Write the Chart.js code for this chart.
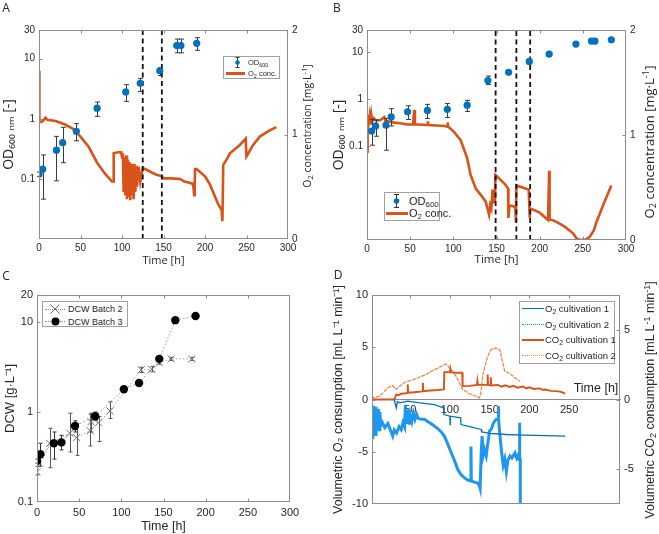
<!DOCTYPE html>
<html>
<head>
<meta charset="utf-8">
<script src="https://cdn.jsdelivr.net/npm/chart.js@4.4.1/dist/chart.umd.min.js"></script>
<style>
  html, body { margin: 0; padding: 0; background: #fff; }
  body { position: relative; width: 659px; height: 534px; overflow: hidden; font-family: "Liberation Sans", Arial, sans-serif; color: #262626; }
  canvas { position: absolute; }
  .t { position: absolute; white-space: nowrap; transform: translate(-50%, -50%); line-height: 1; }
  .r { transform: translate(-50%, -50%) rotate(-90deg); }
  .letter { font-family: "Open Sans", sans-serif; font-size: 12px; }
  .leg { position: absolute; border: 1px solid #a0a0a0; background: #fff; box-sizing: border-box; }
  .leg > * { position: absolute; }
  .leg .txt { white-space: nowrap; transform: translateY(-50%); line-height: 1; }
  sub { font-size: 72%; vertical-align: -0.3em; line-height: 0; }
  sup { font-size: 72%; vertical-align: 0.45em; line-height: 0; }
</style>
</head>
<body>
<canvas id="chartA" width="330" height="267" style="left:0;top:0"></canvas>
<canvas id="chartB" width="329" height="267" style="left:330px;top:0"></canvas>
<canvas id="chartC" width="330" height="267" style="left:0;top:267px"></canvas>
<canvas id="chartD" width="329" height="267" style="left:330px;top:267px"></canvas>

<!-- panel letters -->
<div class="t letter" style="left:6px;top:8px">A</div>
<div class="t letter" style="left:337px;top:8px">B</div>
<div class="t letter" style="left:6px;top:276px">C</div>
<div class="t letter" style="left:338px;top:275px">D</div>

<!-- right axis titles (read bottom to top, like the left ones) -->
<div class="t r" style="left:307px;top:126px;font-family:'Open Sans',sans-serif;font-size:10.5px">O<sub>2</sub> concentration [mg·L<sup>-1</sup>]</div>
<div class="t r" style="left:649px;top:142px;font-family:'Open Sans',sans-serif;font-size:13px">O<sub>2</sub> concentration [mg·L<sup>-1</sup>]</div>
<div class="t r" style="left:650px;top:400px;font-size:12.5px">Volumetric CO<sub>2</sub> consumption [mL L<sup>-1</sup> min<sup>-1</sup>]</div>
<div class="t" style="left:596px;top:388px;font-size:12.5px">Time [h]</div>

<!-- legend A -->
<div class="leg" style="left:223px;top:56px;width:57px;height:23px;">
  <svg style="left:9px;top:0px" width="9" height="11"><line x1="4.5" y1="0.5" x2="4.5" y2="10.5" stroke="#333"/><line x1="2.5" y1="0.5" x2="6.5" y2="0.5" stroke="#333"/><line x1="2.5" y1="10.5" x2="6.5" y2="10.5" stroke="#333"/><circle cx="4.5" cy="5.5" r="2.3" fill="#0072BD"/></svg>
  <span class="txt" style="left:24px;top:5.5px;font-size:7.5px">OD<sub>600</sub></span>
  <div style="left:2px;top:15px;width:19px;height:3px;background:#D95319"></div>
  <span class="txt" style="left:24px;top:16.5px;font-size:7.5px">O<sub>2</sub> conc.</span>
</div>

<!-- legend B -->
<div class="leg" style="left:384px;top:192px;width:56px;height:29px;">
  <svg style="left:6px;top:1px" width="11" height="14"><line x1="5.5" y1="0.5" x2="5.5" y2="13.5" stroke="#333"/><line x1="3" y1="0.5" x2="8" y2="0.5" stroke="#333"/><line x1="3" y1="13.5" x2="8" y2="13.5" stroke="#333"/><circle cx="5.5" cy="7" r="2.8" fill="#0072BD"/></svg>
  <span class="txt" style="left:24px;top:8px;font-size:11px">OD<sub>600</sub></span>
  <div style="left:1px;top:18.5px;width:22px;height:3px;background:#D95319"></div>
  <span class="txt" style="left:24px;top:20px;font-size:11px">O<sub>2</sub> conc.</span>
</div>

<!-- legend C -->
<div class="leg" style="left:42px;top:301px;width:86px;height:26px;">
  <div style="left:2px;top:6.5px;width:20px;height:0;border-top:1px dotted #888"></div>
  <svg style="left:7px;top:2px" width="10" height="10"><line x1="0.5" y1="0.5" x2="9.5" y2="9.5" stroke="#666"/><line x1="9.5" y1="0.5" x2="0.5" y2="9.5" stroke="#666"/></svg>
  <span class="txt" style="left:25px;top:7px;font-size:9px">DCW Batch 2</span>
  <div style="left:2px;top:19px;width:20px;height:0;border-top:1px dotted #888"></div>
  <svg style="left:8px;top:15px" width="9" height="9"><circle cx="4.5" cy="4.5" r="4" fill="#000"/></svg>
  <span class="txt" style="left:25px;top:19.5px;font-size:9px">DCW Batch 3</span>
</div>

<!-- legend D -->
<div class="leg" style="left:519px;top:301px;width:96px;height:63px;font-size:9.5px;">
  <div style="left:2px;top:6px;width:22px;height:0;border-top:1.5px solid #0072BD"></div>
  <span class="txt" style="left:25px;top:7px">O<sub>2</sub> cultivation 1</span>
  <div style="left:2px;top:21.5px;width:22px;height:0;border-top:1.5px dotted #1E98EE"></div>
  <span class="txt" style="left:25px;top:22.5px">O<sub>2</sub> cultivation 2</span>
  <div style="left:2px;top:37px;width:22px;height:0;border-top:2px solid #D95319"></div>
  <span class="txt" style="left:25px;top:38px">CO<sub>2</sub> cultivation 1</span>
  <div style="left:2px;top:52.5px;width:22px;height:0;border-top:1.5px dotted #F28A55"></div>
  <span class="txt" style="left:25px;top:53.5px">CO<sub>2</sub> cultivation 2</span>
</div>

<script>
// ---- Panel A: OD600 (log, left) and dissolved O2 (right) ----
const odTimeA = [0, 4.5, 21, 28.5, 45, 70, 104.5, 122, 145.5, 166, 171, 190];
const odValA  = [0.12, 0.146, 0.30, 0.40, 0.62, 1.5, 2.8, 3.9, 6.3, 16.5, 16.5, 18];
const odLoA   = [0.11, 0.046, 0.093, 0.186, 0.43, 1.1, 1.95, 2.85, 5.25, 12.5, 12.5, 13.8];
const odHiA   = [0.13, 0.25, 0.51, 0.72, 0.83, 1.9, 3.7, 4.7, 7.06, 21.2, 21.2, 22.3];
const o2TimeA = [0, 0.3, 0.6, 3, 6, 8, 10, 20, 30, 40, 45, 50, 60, 70, 80, 88, 89.5, 90, 95, 99, 100, 101,
  102, 103, 104, 105, 106, 107, 108, 109, 110, 111, 112, 113, 114, 115, 116, 117, 118, 120, 122, 125, 130,
  140, 148, 150, 160, 170, 175, 180, 185, 186, 187, 187.6, 188, 190, 200, 206, 216, 220, 221, 222, 226, 230,
  242, 249, 250, 258, 266, 278, 286];
const o2ValA  = [1.61, 1.6, 1.12, 1.12, 1.14, 1.16, 1.14, 1.13, 1.10, 1.06, 1.02, 0.98, 0.88, 0.73, 0.62, 0.55, 0.55, 0.82, 0.83, 0.83, 0.78, 0.82,
  0.45, 0.78, 0.42, 0.80, 0.38, 0.76, 0.40, 0.74, 0.37, 0.72, 0.42, 0.70, 0.38, 0.72, 0.45, 0.70, 0.50, 0.69, 0.55, 0.68, 0.66,
  0.62, 0.60, 0.58, 0.58, 0.575, 0.55, 0.54, 0.53, 0.50, 0.42, 0.50, 0.67, 0.67, 0.60, 0.52, 0.33, 0.28, 0.17, 0.71, 0.76, 0.82,
  0.90, 0.96, 0.79, 0.90, 0.98, 1.04, 1.07];
const sampleA = [125, 148];

// ---- Panel B ----
const odTimeB = [5.4, 10, 22, 28, 47, 70, 93, 116, 140, 164, 188, 211, 242, 260, 264, 283];
const odValB  = [0.21, 0.27, 0.28, 0.42, 0.54, 0.58, 0.61, 0.75, 2.5, 3.75, 6.4, 9.2, 15, 17.4, 17.4, 18.6];
const odLoB   = [0.105, 0.163, 0.082, 0.27, 0.37, 0.39, 0.41, 0.55, 2.06, 3.75, 6.4, 9.2, 15, 17.4, 17.4, 18.6];
const odHiB   = [0.37, 0.36, 0.39, 0.63, 0.73, 0.78, 0.81, 0.95, 3.13, 3.75, 6.4, 9.2, 15, 17.4, 17.4, 18.6];
const o2TimeB = [0, 0.4, 1, 2, 3, 4, 5, 6, 8, 10, 15, 20, 21.6, 25, 30, 40, 46.7, 53.5, 54.5, 55.5, 60, 70, 70.5, 71,
  80, 90, 93, 93.5, 94, 100.8, 108.5, 116, 120, 126, 131.7, 137.5, 141.4, 142.7, 144, 145.4, 146.5, 148.2, 148.7,
  155, 160, 163.4, 163.8, 165, 170, 171.9, 172.5, 173, 180, 187.3, 188.5, 189, 195, 200, 209.7, 211, 211.5,
  220, 229, 238.7, 242.6, 245, 252, 258, 263, 265.7, 273.5, 283];
const o2ValB  = [0.84, 1.14, 1.19, 1.12, 1.18, 1.1, 1.19, 1.13, 1.16, 1.14, 1.14, 1.17, 1.13, 1.13, 1.12, 1.11, 1.10, 1.10, 1.24, 1.10, 1.10, 1.095, 1.13, 1.095,
  1.09, 1.085, 1.08, 1.12, 1.08, 1.03, 0.95, 0.78, 0.62, 0.49, 0.43, 0.365, 0.24, 0.33, 0.30, 0.48, 0.36, 0.37, 0.62,
  0.57, 0.53, 0.49, 0.21, 0.33, 0.32, 0.30, 0.17, 0.52, 0.50, 0.48, 0.21, 0.30, 0.28, 0.26, 0.19, 0.66, 0.20,
  0.17, 0.127, 0.064, 0.016, 0.005, 0, 0.03, 0.095, 0.17, 0.33, 0.52];
const sampleB = [149, 173, 189];

// shared axis values for A and B
const timeTicks = [0, 50, 100, 150, 200, 250, 300];
const odTicksAB = [0.1, 1, 10, 30];
const o2Ticks = [0, 1, 2];
const odRangeA = [0.01, 30];
const odRangeB = [0.001, 30];

// ---- Panel C: dry cell weight ----
const dcwTime3 = [0, 4, 20, 29, 45, 69, 103, 121, 145, 164, 188];
const dcwVal3  = [0.286, 0.34, 0.45, 0.46, 0.70, 0.90, 1.79, 2.1, 3.9, 10.5, 11.7];
const dcwLo3   = [0.27, 0.25, 0.30, 0.38, 0.60, 0.81, 1.79, 2.1, 3.9, 10.5, 11.7];
const dcwHi3   = [0.30, 0.45, 0.60, 0.55, 0.80, 1.0, 1.79, 2.1, 3.9, 10.5, 11.7];
const dcwTime2 = [0, 15, 39, 47, 63, 64, 73, 86.5, 123.5, 136, 145, 159, 183.5];
const dcwVal2  = [0.216, 0.448, 0.58, 0.52, 0.62, 0.78, 0.76, 1.03, 2.94, 2.98, 3.55, 3.9, 3.9];
const dcwLo2   = [0.20, 0.24, 0.36, 0.33, 0.42, 0.60, 0.47, 0.85, 2.75, 2.8, 3.4, 3.75, 3.75];
const dcwHi2   = [0.25, 0.66, 0.97, 0.75, 0.95, 0.97, 0.89, 1.3, 3.15, 3.2, 3.7, 4.05, 4.05];
const dcwTicks = [0.1, 1, 10, 20];

// ---- Panel D: volumetric O2 / CO2 consumption ----
const o2TimeD1 = [30, 32.5, 34, 36.7, 47, 60, 80.7, 92, 92.5, 100, 100.3, 100.6, 113.5, 114, 125, 139.4, 140, 150, 171, 192, 220, 245];
const o2ValD1  = [0, -0.8, -0.2, -0.32, -0.16, -0.3, -0.48, -0.8, -1.44, -1.6, -2.4, -1.6, -1.75, -2.4, -2.6, -2.87, -3.1, -3.25, -3.35, -3.41, -3.45, -3.5];
const o2TimeD2 = [2, 3, 4, 5, 6, 7, 8, 9, 10, 11, 12, 13, 15, 18, 22, 25, 28, 30, 33, 36, 38.8, 41, 43, 44, 45, 46, 47, 48,
  49, 50, 52, 54, 56, 58, 60, 64, 68, 72, 76, 80.7, 85, 89, 93, 97, 101.7, 106, 110, 114, 118.5, 122, 126, 126.5, 127,
  131, 135, 137.3, 138, 139.4, 140.5, 142, 143.5, 145.7, 148, 150, 152, 154.5, 157, 158.5, 160.8, 161, 161.5, 163, 165,
  167, 169, 171, 173, 175.5, 178, 181.8, 184, 186, 187, 187.5, 188, 188.5, 188.6];
const o2ValD2  = [-0.64, -3.8, -0.6, -2.2, -0.7, -3.5, -1.0, -2.4, -0.9, -2.9, -1.2, -2.5, -2.2, -2.7, -2.3, -2.9, -3.5, -2.9, -3.2, -2.6, -2.9, -2.2, -2.6, -0.5, -2.2, -1.0, -2.0, -1.2,
  -2.4, -1.5, -2.1, -1.3, -1.9, -1.4, -1.8, -1.9, -1.9, -2.1, -2.3, -2.55, -2.8, -3.1, -3.5, -4.2, -5.1, -5.9, -6.7, -7.2, -7.5, -7.7, -7.8, -4.5, -7.8,
  -7.9, -8.0, -8.3, -8.5, -5.1, -3.5, -5.3, -4.8, -5.4, -4.0, -3.0, -2.87, -2.3, -2.0, -1.9, -1.9, -0.64, -1.9, -3.5, -5.0,
  -6.3, -5.7, -6.9, -5.8, -5.4, -5.6, -5.1, -5.6, -5.3, -5.74, -2.23, -5.5, -5.7, -10];
const co2TimeD1 = [2, 30, 32.5, 35, 38.8, 45, 46.5, 47, 47.5, 55, 65.5, 66, 66.5, 75, 85, 92.5, 93, 100, 100.5, 101, 108, 115.5, 116,
  125, 134, 134.5, 135, 140, 147, 147.5, 148, 151, 151.5, 152, 160, 165, 170, 175, 180, 185, 192, 196, 200, 205, 213, 217, 220, 227, 234, 240, 245];
const co2ValD1  = [0, 0, 0.36, 0.3, 0.41, 0.45, 0.48, 1.1, 0.48, 0.52, 0.58, 1.2, 0.6, 0.65, 0.68, 0.72, 1.96, 1.98, 2.15, 1.95, 1.92, 1.92, 0.96,
  0.98, 1.05, 1.3, 1.05, 1.05, 1.05, 1.8, 1.05, 1.0, 1.6, 1.0, 1.05, 0.92, 1.02, 0.9, 0.98, 0.85, 0.93, 0.8, 0.88, 0.76, 0.8, 0.7, 0.72, 0.62, 0.6, 0.55, 0.43];
const co2TimeD2 = [2, 3, 11.6, 18, 22, 28, 32, 38, 43, 50, 60, 70, 76.5, 85, 93, 95, 99.6, 104, 110, 116, 122.6, 130, 137.3, 139,
  141.5, 145.7, 149, 152, 158, 163, 166, 169, 175.5, 181, 188];
const co2ValD2  = [0, 0.12, 0.24, 0.6, 0.84, 1.0, 0.72, 1.0, 1.24, 1.35, 1.56, 1.8, 2.03, 2.25, 2.5, 2.55, 2.28, 2.0, 1.44, 0.72, 0.48, 0.3, 0.12, 0.5,
  1.8, 2.75, 3.3, 3.6, 3.7, 3.55, 2.75, 2.03, 1.87, 1.6, 1.31];
const timeTicksD = [50, 100, 150, 200, 250];
const o2TicksD = [-10, -5, 0, 5, 10];
const co2TicksD = [-5, 0, 5];

const SANS = '"Liberation Sans", Arial, sans-serif';
const OPEN = '"Open Sans", sans-serif';
const TXT = '#262626';
const FRAME = '#8c8c8c';
const BLUE = '#0072BD';
const ORANGE = '#D95319';

const pts = (xs, ys) => xs.map((x, i) => ({ x: x, y: ys[i] }));
function vlines(xs, lo, hi) {
  const out = [];
  xs.forEach(x => { out.push({ x: x, y: lo }, { x: x, y: hi }, { x: x, y: null }); });
  return out;
}
const fixTicks = list => s => { s.ticks = list.map(v => ({ value: v })); };

// box around the plot area, with short inward tick marks like the original
const framePlugin = {
  id: 'frame',
  afterDraw(chart) {
    const { ctx, chartArea: a } = chart;
    const L = Math.round(a.left) + 0.5, T = Math.round(a.top) + 0.5;
    const R = Math.round(a.right) - 0.5, B = Math.round(a.bottom) - 0.5;
    ctx.save();
    ctx.strokeStyle = FRAME;
    ctx.lineWidth = 1;
    ctx.strokeRect(L, T, R - L, B - T);
    ctx.beginPath();
    Object.values(chart.scales).forEach(s => {
      s.ticks.forEach(t => {
        const p = Math.round(s.getPixelForValue(t.value)) + 0.5;
        if (s.isHorizontal()) {
          if (p <= L + 1 || p >= R - 1) return;
          ctx.moveTo(p, T); ctx.lineTo(p, T + 3);
          if (typeof s.options.position === 'string') { ctx.moveTo(p, B); ctx.lineTo(p, B - 3); }
        } else {
          if (p <= T + 1 || p >= B - 1) return;
          if (s.position === 'right') { ctx.moveTo(R, p); ctx.lineTo(R - 3, p); }
          else { ctx.moveTo(L, p); ctx.lineTo(L + 3, p); }
        }
      });
    });
    ctx.stroke();
    ctx.restore();
  }
};

// vertical error bars, drawn right under the markers of their dataset
const errorBarPlugin = {
  id: 'errorBars',
  beforeDatasetDraw(chart, args) {
    const ds = chart.data.datasets[args.index];
    if (!ds.errLo) return;
    const xs = chart.scales[args.meta.xAxisID], ys = chart.scales[args.meta.yAxisID];
    const ctx = chart.ctx;
    const cap = ds.errCap || 2.5;
    ctx.save();
    ctx.strokeStyle = ds.errColor;
    ctx.lineWidth = 1;
    ds.data.forEach((p, i) => {
      const lo = ds.errLo[i], hi = ds.errHi[i];
      if (lo === hi) return;
      const x = Math.round(xs.getPixelForValue(p.x)) + 0.5;
      const y1 = ys.getPixelForValue(lo), y2 = ys.getPixelForValue(hi);
      ctx.beginPath();
      ctx.moveTo(x, y1); ctx.lineTo(x, y2);
      ctx.moveTo(x - cap, y1); ctx.lineTo(x + cap, y1);
      ctx.moveTo(x - cap, y2); ctx.lineTo(x + cap, y2);
      ctx.stroke();
    });
    ctx.restore();
  }
};

function axisBase(size) {
  return {
    grid: { display: false, drawTicks: false },
    border: { display: false },
    ticks: { color: TXT, font: { family: SANS, size: size }, padding: 4, maxRotation: 0, autoSkip: false, callback: v => String(v) }
  };
}

const baseOptions = {
  animation: false,
  responsive: false,
  maintainAspectRatio: false,
  events: [],
  plugins: { legend: { display: false }, tooltip: { enabled: false } }
};

// ---------- A and B ----------
function odChart(id, p) {
  const x = axisBase(10);
  x.type = 'linear'; x.min = 0; x.max = 300;
  x.afterBuildTicks = fixTicks(timeTicks);
  x.afterFit = s => { s.height = p.xh; };
  x.ticks.padding = 3;
  x.title = { display: true, text: 'Time [h]', color: TXT, font: { family: OPEN, size: p.xtSize }, padding: { top: 0, bottom: 0 } };

  const y = axisBase(10);
  y.type = 'logarithmic'; y.min = p.range[0]; y.max = p.range[1];
  y.afterBuildTicks = fixTicks(odTicksAB);
  y.afterFit = s => { s.width = p.lw; };
  y.title = { display: true, text: 'OD₆₀₀ ₙₘ [-]', color: TXT, font: { family: OPEN, size: 14 }, padding: { top: 1, bottom: 0 } };

  const y1 = axisBase(10);
  y1.type = 'linear'; y1.position = 'right'; y1.min = 0; y1.max = 2;
  y1.afterBuildTicks = fixTicks(o2Ticks);
  y1.afterFit = s => { s.width = p.rw; };

  return new Chart(document.getElementById(id), {
    type: 'line',
    data: {
      datasets: [
        { label: 'OD600', data: pts(p.odT, p.odV), yAxisID: 'y', showLine: false, pointRadius: 3.6,
          pointBackgroundColor: BLUE, pointBorderWidth: 0, errLo: p.lo, errHi: p.hi, errColor: '#3a3a3a' },
        { label: 'samples', data: vlines(p.samples, p.range[0], p.range[1]), yAxisID: 'y', borderColor: '#111',
          borderWidth: 1.8, borderDash: [5, 3.5], pointRadius: 0, spanGaps: false },
        { label: 'O2 conc.', data: pts(p.o2T, p.o2V), yAxisID: 'y1', borderColor: ORANGE, borderWidth: 2.6,
          pointRadius: 0, tension: 0 }
      ]
    },
    options: Object.assign({}, baseOptions, {
      layout: { padding: { top: 30, left: 0, right: 0, bottom: 0 } },
      scales: { x: x, y: y, y1: y1 }
    }),
    plugins: [errorBarPlugin, framePlugin]
  });
}

odChart('chartA', { odT: odTimeA, odV: odValA, lo: odLoA, hi: odHiA, o2T: o2TimeA, o2V: o2ValA,
  samples: sampleA, range: odRangeA, lw: 39, rw: 42, xh: 28, xtSize: 11 });
odChart('chartB', { odT: odTimeB, odV: odValB, lo: odLoB, hi: odHiB, o2T: o2TimeB, o2V: o2ValB,
  samples: sampleB, range: odRangeB, lw: 37, rw: 33, xh: 27, xtSize: 11.5 });

// ---------- C ----------
(function () {
  const x = axisBase(11);
  x.type = 'linear'; x.min = 0; x.max = 300;
  x.afterBuildTicks = fixTicks(timeTicks);
  x.afterFit = s => { s.height = 32; };
  x.ticks.padding = 4;
  x.title = { display: true, text: 'Time [h]', color: TXT, font: { family: SANS, size: 12.5 }, padding: { top: 0, bottom: 0 } };
  const y = axisBase(11);
  y.type = 'logarithmic'; y.min = 0.1; y.max = 20;
  y.afterBuildTicks = fixTicks(dcwTicks);
  y.afterFit = s => { s.width = 37; };
  y.title = { display: true, text: 'DCW [g·L⁻¹]', color: TXT, font: { family: SANS, size: 13 }, padding: { top: 3, bottom: 0 } };

  new Chart(document.getElementById('chartC'), {
    type: 'line',
    data: {
      datasets: [
        { label: 'DCW Batch 3', data: pts(dcwTime3, dcwVal3), borderColor: '#9a9a9a', borderWidth: 1, borderDash: [1.5, 2],
          pointStyle: 'circle', pointRadius: 4.2, pointBackgroundColor: '#000', pointBorderColor: '#000', pointBorderWidth: 0,
          errLo: dcwLo3, errHi: dcwHi3, errColor: '#333', errCap: 2 },
        { label: 'DCW Batch 2', data: pts(dcwTime2, dcwVal2), borderColor: '#a5a5a5', borderWidth: 1, borderDash: [1.5, 2],
          pointStyle: 'crossRot', pointRadius: 5, pointBorderColor: '#6e6e6e', pointBorderWidth: 1,
          errLo: dcwLo2, errHi: dcwHi2, errColor: '#555', errCap: 2 }
      ]
    },
    options: Object.assign({}, baseOptions, {
      layout: { padding: { top: 28, left: 0, right: 40, bottom: 0 } },
      scales: { x: x, y: y }
    }),
    plugins: [errorBarPlugin, framePlugin]
  });
})();

// ---------- D ----------
(function () {
  const x = axisBase(11);
  x.type = 'linear'; x.min = 2; x.max = 314;
  x.position = { y: 0 };
  x.border = { display: true, color: FRAME, width: 1 };
  x.afterBuildTicks = fixTicks(timeTicksD);
  x.ticks.padding = 4;
  const y = axisBase(11);
  y.type = 'linear'; y.min = -10; y.max = 10;
  y.afterBuildTicks = fixTicks(o2TicksD);
  y.afterFit = s => { s.width = 42; };
  y.title = { display: true, text: 'Volumetric O₂ consumption [mL L⁻¹ min⁻¹]', color: TXT, font: { family: SANS, size: 12.5 }, padding: { top: 1.5, bottom: 0 } };
  const y1 = axisBase(11);
  y1.type = 'linear'; y1.position = 'right'; y1.min = -7.5; y1.max = 7.5;
  y1.afterBuildTicks = fixTicks(co2TicksD);
  y1.afterFit = s => { s.width = 39; };

  new Chart(document.getElementById('chartD'), {
    type: 'line',
    data: {
      datasets: [
        { label: 'O2 cultivation 1', data: pts(o2TimeD1, o2ValD1), yAxisID: 'y', borderColor: BLUE, borderWidth: 1.3, pointRadius: 0 },
        { label: 'O2 cultivation 2', data: pts(o2TimeD2, o2ValD2), yAxisID: 'y', borderColor: '#1E98EE', borderWidth: 3, pointRadius: 0 },
        { label: 'CO2 cultivation 1', data: pts(co2TimeD1, co2ValD1), yAxisID: 'y1', borderColor: ORANGE, borderWidth: 1.9, pointRadius: 0 },
        { label: 'CO2 cultivation 2', data: pts(co2TimeD2, co2ValD2), yAxisID: 'y1', borderColor: '#F07F45', borderWidth: 1.2,
          borderDash: [4, 1], pointRadius: 0 }
      ]
    },
    options: Object.assign({}, baseOptions, {
      layout: { padding: { top: 28, left: 0, right: 0, bottom: 30 } },
      scales: { x: x, y: y, y1: y1 }
    }),
    plugins: [framePlugin]
  });
})();
</script>
</body>
</html>
